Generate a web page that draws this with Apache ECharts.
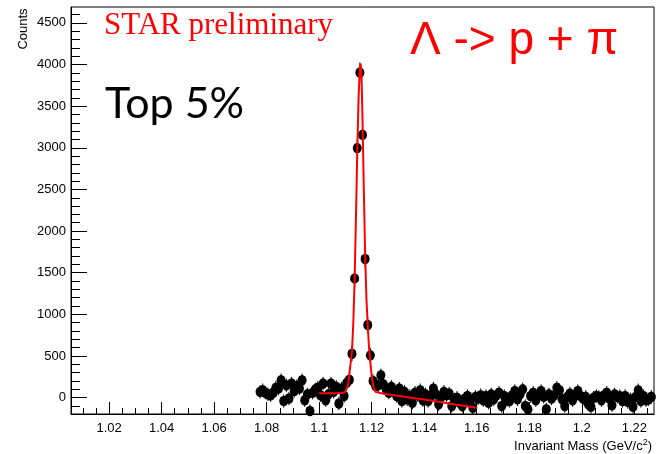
<!DOCTYPE html>
<html>
<head>
<meta charset="utf-8">
<title>Lambda invariant mass</title>
<script src="https://cdn.jsdelivr.net/npm/echarts@6/dist/echarts.min.js"></script>
<style>
  html, body { margin: 0; padding: 0; background: #ffffff; }
  #chart { width: 656px; height: 454px; }
</style>
</head>
<body>
<div id="chart"></div>
<script>
// Histogram binning (GeV/c^2)
const firstBinCenter = 1.0775;
const binWidth = 0.001;

// Counts per bin: low side-band, signal region, high side-band
const countsLow = [70, 90, 60, 40, 30, 60, 120, 110, 210, -40,
                   150, -10, 170, 80, 140, 110, 210, -30, 40, -160,
                   60, 100, 120, 30, 170, -30, 40, 170, 70, 130,
                   -70, 110, 20, 180, 216];
const countsPeak = [528, 1432, 2996, 3903, 3155, 1664, 872, 508];
const countsHigh = [200, 140, 150, 270, 160, 100, 60, 130, 80, 20,
                    110, -40, 70, -20, 20, -60, 60, 30, 90, -30,
                    40, -40, 20, 110, 40, -80, 10, 70, 30, 50,
                    -100, -20, 0, -60, -100, -10, 20, -50, -120, 10,
                    -10, 30, -30, 20, -60, 40, -20, 30, 60, -100,
                    20, -30, -40, 30, 80, -20, 40, 100, -100, -140,
                    20, 60, -30, 40, 80, 10, -140, 40, -10, 30,
                    120, 90, -20, -100, 10, 50, -30, 30, 80, 20,
                    -10, 10, -80, -110, 0, 20, 10, -30, 30, 60,
                    -10, -90, 40, 10, 20, -40, 20, -50, -20, -110,
                    10, 90, -40, 20, -30, -20, 10];

// Statistical errors (half-length of the error bars)
const errorSideBand = 80;
const errorPeak = [90, 100, 110, 120, 115, 100, 95, 90];

// Fit function (signal + residual background)
const fitMass = [1.100, 1.104, 1.107, 1.109, 1.110, 1.1105, 1.1110, 1.1117,
                 1.1125, 1.1130, 1.1135, 1.1140, 1.1145, 1.1150, 1.1155, 1.1158,
                 1.1161, 1.1165, 1.1170, 1.1175, 1.1180, 1.1185, 1.1190, 1.1195,
                 1.1200, 1.1205, 1.1210, 1.1217, 1.1220, 1.125, 1.130, 1.135,
                 1.140, 1.145, 1.150, 1.155, 1.160];
const fitCounts = [52, 52, 54, 58, 72, 95, 150, 336,
                   560, 900, 1420, 2150, 2950, 3600, 3960, 4010,
                   3900, 3350, 2500, 1720, 1180, 860, 600, 420,
                   260, 150, 95, 68, 60, 45, 22, 0,
                   -22, -47, -72, -97, -122];

// Axis ticks and labels
const xMajorTicks = [1.02, 1.04, 1.06, 1.08, 1.10, 1.12, 1.14, 1.16, 1.18, 1.20, 1.22];
const yMajorTicks = [0, 500, 1000, 1500, 2000, 2500, 3000, 3500, 4000, 4500];
const xRange = [1.0055, 1.2275];
const yRange = [-196, 4690];

const xMinorTicks = [];
for (let i = 202; i <= 245; i++) xMinorTicks.push(+(i * 0.005).toFixed(3));
const yMinorTicks = [];
for (let v = -100; v <= 4600; v += 100) yMinorTicks.push(v);

const counts = countsLow.concat(countsPeak, countsHigh);
const peakStart = countsLow.length;
const points = counts.map((c, i) => {
  const m = +(firstBinCenter + i * binWidth).toFixed(4);
  const k = i - peakStart;
  const e = (k >= 0 && k < errorPeak.length) ? errorPeak[k] : errorSideBand;
  return [m, c, e];
});
const fitLine = fitMass.map((m, i) => [m, fitCounts[i]]);

const axisFont = { fontFamily: '"Liberation Sans", Arial, sans-serif', fontSize: 13, color: '#000' };

const chart = echarts.init(document.getElementById('chart'), null, { renderer: 'canvas' });
chart.setOption({
  animation: false,
  backgroundColor: '#ffffff',
  grid: { left: 71, top: 7, right: 2, bottom: 40, show: true, borderColor: '#000', borderWidth: 1, backgroundColor: 'transparent' },
  xAxis: [
    {
      type: 'value', min: xRange[0], max: xRange[1], position: 'bottom',
      axisLine: { show: true, onZero: false, lineStyle: { color: '#000', width: 1 } },
      axisTick: { show: true, inside: true, length: 12, customValues: xMajorTicks, lineStyle: { color: '#000' } },
      axisLabel: Object.assign({ show: true, margin: 8, customValues: xMajorTicks,
        formatter: v => String(+v.toFixed(2)) }, axisFont),
      splitLine: { show: false }
    },
    {
      type: 'value', min: xRange[0], max: xRange[1], position: 'bottom',
      axisLine: { show: false, onZero: false },
      axisTick: { show: true, inside: true, length: 6, customValues: xMinorTicks, lineStyle: { color: '#000' } },
      axisLabel: { show: false },
      splitLine: { show: false }
    }
  ],
  yAxis: [
    {
      type: 'value', min: yRange[0], max: yRange[1], position: 'left',
      axisLine: { show: true, onZero: false, lineStyle: { color: '#000', width: 1 } },
      axisTick: { show: true, inside: true, length: 16, customValues: yMajorTicks, lineStyle: { color: '#000' } },
      axisLabel: Object.assign({ show: true, margin: 5, customValues: yMajorTicks,
        formatter: v => String(v) }, axisFont),
      splitLine: { show: false }
    },
    {
      type: 'value', min: yRange[0], max: yRange[1], position: 'left',
      axisLine: { show: false, onZero: false },
      axisTick: { show: true, inside: true, length: 9, customValues: yMinorTicks, lineStyle: { color: '#000' } },
      axisLabel: { show: false },
      splitLine: { show: false }
    }
  ],
  series: [
    {
      name: 'errors',
      type: 'custom',
      xAxisIndex: 0, yAxisIndex: 0,
      clip: true,
      data: points,
      renderItem: function (params, api) {
        const x = api.value(0), y = api.value(1), e = api.value(2);
        const lo = api.coord([x, y - e]);
        const hi = api.coord([x, y + e]);
        return {
          type: 'line',
          shape: { x1: lo[0], y1: lo[1], x2: hi[0], y2: hi[1] },
          style: { stroke: '#000', lineWidth: 1 }
        };
      },
      z: 2
    },
    {
      name: 'data',
      type: 'scatter',
      xAxisIndex: 0, yAxisIndex: 0,
      data: points.map(p => [p[0], p[1]]),
      symbol: 'circle',
      symbolSize: [9, 10.5],
      itemStyle: { color: '#000', opacity: 1 },
      clip: true,
      z: 3
    },
    {
      name: 'fit',
      type: 'line',
      xAxisIndex: 0, yAxisIndex: 0,
      data: fitLine,
      showSymbol: false,
      symbol: 'none',
      smooth: false,
      lineStyle: { color: '#ff0000', width: 2 },
      z: 4
    }
  ],
  graphic: [
    {
      type: 'text', x: 23, y: 29, rotation: Math.PI / 2,
      style: { text: 'Counts', fill: '#000', font: '13px "Liberation Sans", Arial, sans-serif', align: 'center', verticalAlign: 'middle' }
    },
    {
      type: 'text', x: 652, y: 446,
      style: {
        text: 'Invariant Mass (GeV/c{sup|2})',
        fill: '#000', font: '13px "Liberation Sans", Arial, sans-serif',
        align: 'right', verticalAlign: 'middle',
        rich: { sup: { fontSize: 9, fontFamily: '"Liberation Sans", Arial, sans-serif', verticalAlign: 'top', padding: [0, 0, 6, 0] } }
      }
    },
    {
      type: 'text', x: 104, y: 26,
      style: { text: 'STAR preliminary', fill: '#ff0000', font: '31px "Liberation Serif", "Times New Roman", serif', align: 'left', verticalAlign: 'middle' }
    },
    {
      type: 'text', x: 410, y: 41,
      style: { text: 'Λ -> p + π', fill: '#ff0000', font: '46px "Liberation Sans", Arial, sans-serif', align: 'left', verticalAlign: 'middle' }
    },
    {
      type: 'text', x: 105, y: 104,
      style: { text: 'Top 5%', fill: '#000', font: '43px Lato, "Open Sans", sans-serif', align: 'left', verticalAlign: 'middle' }
    }
  ]
});
</script>
</body>
</html>
